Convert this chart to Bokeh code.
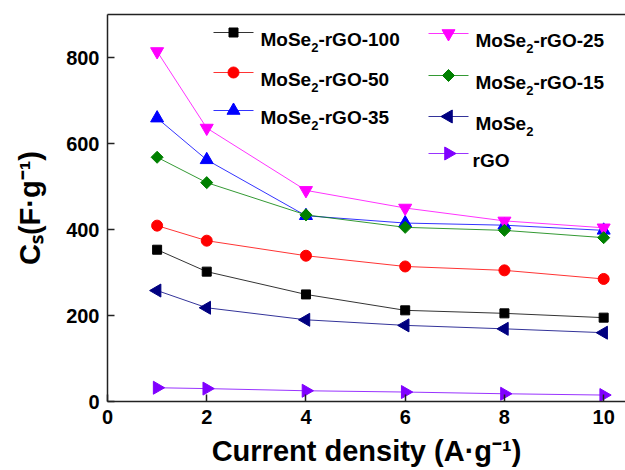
import math
from bokeh.plotting import figure
from bokeh.models import (ColumnDataSource, FixedTicker, LinearAxis, Range1d)
from bokeh.core.properties import value
from bokeh.embed import file_html
from bokeh.resources import INLINE

# ---- data ----
current_density = [1, 2, 4, 6, 8, 10]
cs_rgo100 = [353, 302, 249, 212, 205, 195]
cs_rgo50 = [409, 374, 339, 314, 305, 285]
cs_rgo35 = [659, 562, 432, 415, 410, 398]
cs_rgo25 = [814, 636, 491, 450, 420, 404]
cs_rgo15 = [568, 509, 434, 405, 398, 381]
cs_mose2 = [258, 218, 190, 177, 169, 160]
cs_rgo = [32, 30, 25, 22, 18, 15]
x_ticks = [0, 2, 4, 6, 8, 10]
y_ticks = [0, 200, 400, 600, 800]

FONT = "Liberation Sans"

p = figure(width=625, height=470, output_backend="svg", toolbar_location=None,
           x_range=Range1d(0, 10.44), y_range=Range1d(0, 900),
           min_border_left=107, min_border_right=0, min_border_top=14,
           min_border_bottom=69)
p.outline_line_color = None
p.grid.visible = False
p.background_fill_color = "white"
p.border_fill_color = "white"

# pixel-unit ranges for the legend block (frame is 518 x 387 px)
p.extra_x_ranges = {"px": Range1d(0, 518)}
p.extra_y_ranges = {"px": Range1d(0, 387)}

for ax, ticks in ((p.xaxis[0], x_ticks), (p.yaxis[0], y_ticks)):
    ax.ticker = FixedTicker(ticks=ticks)
    ax.major_tick_in = 7
    ax.major_tick_out = 0
    ax.minor_tick_line_color = None
    ax.axis_line_width = 1.5
    ax.major_tick_line_width = 1.5
    ax.axis_line_color = "#222222"
    ax.major_tick_line_color = "#222222"
    ax.major_label_text_font = FONT
    ax.major_label_text_font_style = "bold"
    ax.major_label_text_font_size = "20px"
    ax.major_label_text_color = "black"
    ax.major_label_standoff = 8
    ax.axis_label_text_font = FONT
    ax.axis_label_text_font_style = "bold"
    ax.axis_label_text_font_size = "29px"
    ax.axis_label_text_color = "black"

p.xaxis[0].axis_label = "Current density (A\u00b7g\u207b\u00b9)"
p.xaxis[0].axis_label_standoff = 8
p.yaxis[0].axis_label = "C\u209b(F\u00b7g\u207b\u00b9)"
p.yaxis[0].axis_label_standoff = 17

top_axis = LinearAxis(ticker=FixedTicker(ticks=[]), major_tick_in=0, major_tick_out=0,
                      minor_tick_line_color=None, major_label_standoff=0,
                      axis_line_width=1.5, axis_line_color="#222222",
                      major_label_text_font_size="0px")
p.add_layout(top_axis, "above")

src = ColumnDataSource(dict(x=current_density, r100=cs_rgo100, r50=cs_rgo50,
                            r35=cs_rgo35, r25=cs_rgo25, r15=cs_rgo15,
                            m=cs_mose2, g=cs_rgo))

# (column, colour, marker, size, angle, name before subscript, subscript, name after)
series = [
    ("r100", "#000000", "square", 9, 0, "MoSe", "2", "-rGO-100"),
    ("r50", "#ff0000", "circle", 11, 0, "MoSe", "2", "-rGO-50"),
    ("r35", "#0000ff", "triangle", 13, 0, "MoSe", "2", "-rGO-35"),
    ("r25", "#ff00ff", "inverted_triangle", 13, 0, "MoSe", "2", "-rGO-25"),
    ("r15", "#008000", "square", 8.5, math.pi / 4, "MoSe", "2", "-rGO-15"),
    ("m", "#000080", "triangle", 13, math.pi / 2, "MoSe", "2", ""),
    ("g", "#8000ff", "triangle", 13, -math.pi / 2, "rGO", "", ""),
]

# legend layout (frame-pixel units, origin at frame bottom-left)
legend_slots = [(106, 369), (106, 329), (106, 291),
                (321, 368), (321, 326), (321, 285), (321, 248)]
SAMPLE_W = 40
TEXT_GAP = 7
MAIN_PX = 19
SUB_PX = 13
W_MOSE = 2.667 * MAIN_PX
W_SUB = 0.556 * SUB_PX

for (col, color, marker, size, ang, t1, t2, t3), (lx, ly) in zip(series, legend_slots):
    p.line("x", col, source=src, line_color=color, line_width=1, line_alpha=0.8)
    p.scatter("x", col, source=src, marker=marker, size=size, angle=ang,
              fill_color=color, line_color=color)
    # legend sample
    p.segment(x0=[lx], y0=[ly], x1=[lx + SAMPLE_W], y1=[ly], line_color=color,
              line_width=1, line_alpha=0.8, x_range_name="px", y_range_name="px")
    p.scatter(x=[lx + SAMPLE_W / 2], y=[ly], marker=marker, size=size, angle=ang,
              fill_color=color, line_color=color, x_range_name="px", y_range_name="px")
    tx = lx + SAMPLE_W + TEXT_GAP
    gap = 0 if t2 else -3
    txt_kw = dict(text_font=value(FONT), text_font_style="bold", text_color="black",
                  text_baseline="alphabetic", text_align="left",
                  x_range_name="px", y_range_name="px")
    p.text(x=[tx + gap], y=[ly - 6.5], text=[t1], text_font_size=f"{MAIN_PX}px", **txt_kw)
    if t2:
        p.text(x=[tx + W_MOSE], y=[ly - 15], text=[t2], text_font_size=f"{SUB_PX}px", **txt_kw)
    if t3:
        p.text(x=[tx + W_MOSE + W_SUB], y=[ly - 6.5], text=[t3],
               text_font_size=f"{MAIN_PX}px", **txt_kw)

open("out.html", "w").write(file_html(p, INLINE))
